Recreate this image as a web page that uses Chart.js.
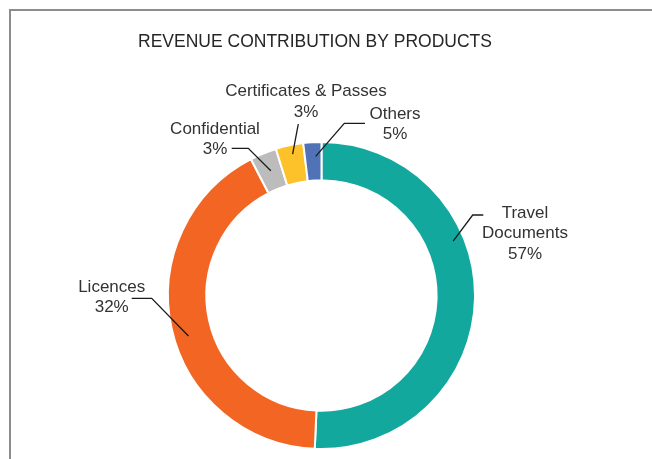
<!DOCTYPE html>
<html>
<head>
<meta charset="utf-8">
<script src="https://cdn.jsdelivr.net/npm/chart.js@4.4.1/dist/chart.umd.min.js"></script>
<style>
  html, body { margin: 0; padding: 0; background: #ffffff; }
  #wrap { width: 652px; height: 459px; position: relative; }
</style>
</head>
<body>
<div id="wrap"><canvas id="c" width="652" height="459"></canvas></div>
<script>
// ---- data ----
const chartTitle = 'REVENUE CONTRIBUTION BY PRODUCTS';
const categories = ['Travel Documents', 'Licences', 'Confidential', 'Certificates & Passes', 'Others'];
const sliceValues = [50.7, 41.7, 2.8, 2.9, 1.9];
const labelNames = [['Travel', 'Documents'], ['Licences'], ['Confidential'], ['Certificates & Passes'], ['Others']];
const labelPercents = ['57%', '32%', '3%', '3%', '5%'];
const sliceColors = ['#13a89e', '#f26522', '#bcbcbc', '#fdc12a', '#5073b8'];

// ---- label layout (style/positions, relative to doughnut centre) ----
const labelLayout = [
  { t: 0.37, r: 0.928, path: [[151.2, -80.5], [161.8, -80.5]], text: [203.5, -62] },
  { t: 0.47, r: 0.906, path: [[-169.8, 2.8], [-189.8, 2.8]], text: [-209.8, 1.8] },
  { t: 0.52, r: 0.877, path: [[-73.2, -147.2], [-89.8, -147.2]], text: [-106.5, -156] },
  { t: 0.55, r: 0.94, path: [[-23.2, -171.5]], text: [-15.5, -193.8] },
  { t: 0.65, r: 0.907, path: [[22.8, -172.2], [43.5, -172.2]], text: [73.5, -171] }
];
const FONT = '"Liberation Sans", Arial, sans-serif';
const TEXT_COLOR = '#333333';
const LINE_H = 20.5;

const framePlugin = {
  id: 'frame',
  beforeDraw(chart) {
    const ctx = chart.ctx;
    ctx.save();
    ctx.fillStyle = '#ffffff';
    ctx.fillRect(0, 0, chart.width, chart.height);
    ctx.strokeStyle = '#8c8c8c';
    ctx.lineWidth = 2;
    ctx.beginPath();
    ctx.moveTo(10, chart.height);
    ctx.lineTo(10, 10);
    ctx.lineTo(chart.width, 10);
    ctx.stroke();
    // title
    ctx.fillStyle = '#262626';
    ctx.font = '17.5px ' + FONT;
    ctx.textAlign = 'center';
    ctx.textBaseline = 'middle';
    ctx.fillText(chartTitle, 315, 42);
    ctx.restore();
  }
};

const labelPlugin = {
  id: 'sliceLabels',
  afterDatasetsDraw(chart) {
    const ctx = chart.ctx;
    const meta = chart.getDatasetMeta(0);
    meta.data.forEach((arc, i) => {
      const p = arc.getProps(['x', 'y', 'startAngle', 'endAngle', 'innerRadius', 'outerRadius'], true);
      const L = labelLayout[i];
      const a = p.startAngle + (p.endAngle - p.startAngle) * L.t;
      const r = p.outerRadius * L.r;
      const ax = p.x + Math.cos(a) * r;
      const ay = p.y + Math.sin(a) * r;
      ctx.save();
      ctx.strokeStyle = '#1a1a1a';
      ctx.lineWidth = 1.3;
      ctx.beginPath();
      ctx.moveTo(ax, ay);
      L.path.forEach(pt => ctx.lineTo(p.x + pt[0], p.y + pt[1]));
      ctx.stroke();
      const lines = labelNames[i].concat([labelPercents[i]]);
      ctx.fillStyle = TEXT_COLOR;
      ctx.font = '17px ' + FONT;
      ctx.textAlign = 'center';
      ctx.textBaseline = 'middle';
      const cx = p.x + L.text[0];
      const cy = p.y + L.text[1];
      const y0 = cy - (lines.length - 1) * LINE_H / 2;
      lines.forEach((s, k) => ctx.fillText(s, cx, y0 + k * LINE_H));
      ctx.restore();
    });
  }
};

new Chart(document.getElementById('c'), {
  type: 'doughnut',
  data: {
    labels: categories,
    datasets: [{
      data: sliceValues,
      backgroundColor: sliceColors,
      borderColor: '#ffffff',
      borderWidth: 2
    }]
  },
  options: {
    responsive: false,
    animation: false,
    cutout: '75%',
    layout: { padding: { top: 141, bottom: 9, left: 21.5, right: 30.5 } },
    plugins: {
      legend: { display: false },
      title: { display: false },
      tooltip: { enabled: false }
    }
  },
  plugins: [framePlugin, labelPlugin]
});
</script>
</body>
</html>
